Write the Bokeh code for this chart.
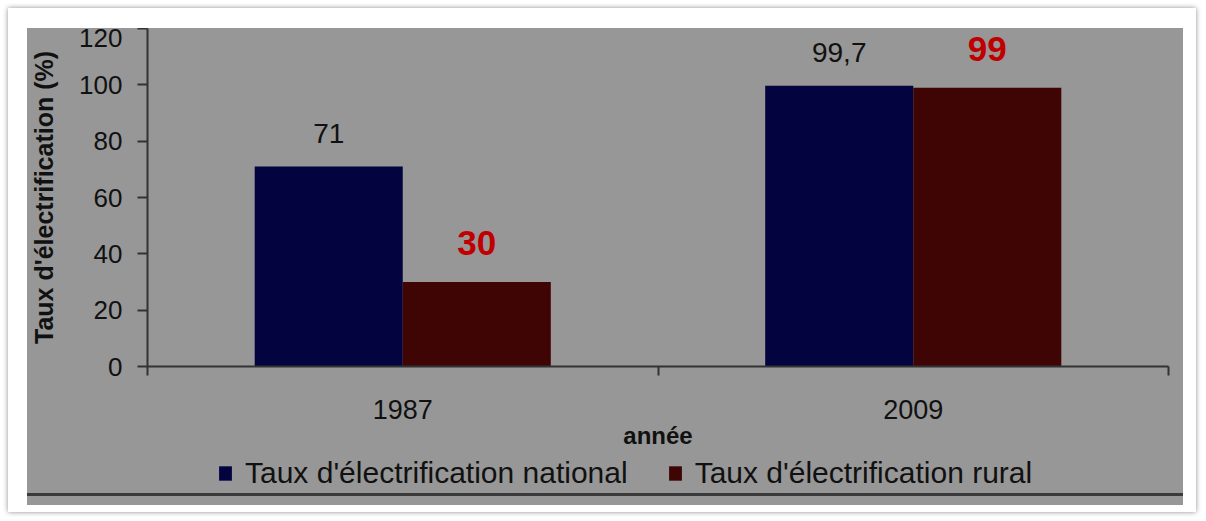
from bokeh.plotting import figure
from bokeh.models import (Range1d, LinearAxis, FixedTicker, Legend, LegendItem,
                          ColumnDataSource, Spacer)
from bokeh.layouts import column, row
from bokeh.transform import dodge
from bokeh.core.properties import value
from bokeh.embed import file_html
from bokeh.resources import INLINE

# ---- data ----
years = ["1987", "2009"]
national = [71, 99.7]
rural = [30, 99]
y_ticks = [0, 20, 40, 60, 80, 100, 120]
series_names = ["Taux d'électrification national", "Taux d'électrification rural"]
y_title = "Taux d'électrification (%)"
x_title = "année"

# ---- style ----
FONT = "Liberation Sans"
GREY = "#979797"
NAVY = "#03033f"
MAROON = "#3f0404"
RED_LABEL = "#c00000"
AX = "#333333"
TXT = "#111111"
W = 1156


def fmt(v):
    return f"{v:g}".replace(".", ",")


centers = [i + 0.5 for i in range(len(years))]
bounds = list(range(len(years) + 1))
src = ColumnDataSource(dict(
    x=centers, national=national, rural=rural,
    nat_lbl=[fmt(v) for v in national], rur_lbl=[fmt(v) for v in rural]))

p = figure(width=W, height=426, x_range=Range1d(0, len(years)),
           y_range=Range1d(0, y_ticks[-1]),
           output_backend="svg", toolbar_location=None, x_axis_location=None,
           min_border_left=120, min_border_right=15, min_border_top=0,
           min_border_bottom=88,
           background_fill_alpha=0, border_fill_color=GREY,
           outline_line_color=None)
p.grid.grid_line_color = None

bar_kw = dict(width=0.29, source=src, line_color=None)
p.vbar(x=dodge("x", -0.145), top="national", fill_color=NAVY, **bar_kw)
p.vbar(x=dodge("x", 0.145), top="rural", fill_color=MAROON, **bar_kw)

p.text(x=dodge("x", -0.145), y="national", text="nat_lbl", source=src,
       text_align="center", text_baseline="middle", y_offset=-33,
       text_font=value(FONT), text_font_size="28px", text_color=TXT)
p.text(x=dodge("x", 0.145), y="rural", text="rur_lbl", source=src,
       text_align="center", text_baseline="middle", y_offset=-39,
       text_font=value(FONT), text_font_size="35px", text_font_style="bold",
       text_color=RED_LABEL)

# y axis
ya = p.yaxis[0]
ya.ticker = FixedTicker(ticks=y_ticks)
ya.axis_line_color = AX
ya.axis_line_width = 2
ya.major_tick_line_color = AX
ya.major_tick_line_width = 2
ya.major_tick_out = 10
ya.major_tick_in = 0
ya.minor_tick_line_color = None
ya.major_label_standoff = 15
ya.major_label_text_font = FONT
ya.major_label_text_font_size = "26px"
ya.major_label_text_color = TXT
ya.axis_label = y_title
ya.axis_label_text_font = FONT
ya.axis_label_text_font_size = "25px"
ya.axis_label_text_font_style = "bold"
ya.axis_label_text_color = TXT
ya.axis_label_standoff = 18

# x axis: boundary ticks (no labels)
ax1 = LinearAxis(ticker=FixedTicker(ticks=bounds),
                 major_label_overrides={b: "" for b in bounds},
                 major_label_standoff=0,
                 major_tick_out=9, major_tick_in=0,
                 axis_line_color=AX, axis_line_width=2,
                 major_tick_line_color=AX, major_tick_line_width=2,
                 minor_tick_line_color=None)
p.add_layout(ax1, "below")

# x axis: category labels
ax2 = LinearAxis(ticker=FixedTicker(ticks=centers),
                 major_label_overrides={c: y for c, y in zip(centers, years)},
                 axis_line_color=None, major_tick_line_color=None,
                 minor_tick_line_color=None, major_tick_out=0, major_tick_in=0,
                 major_label_standoff=24,
                 major_label_text_font=FONT, major_label_text_font_size="27px",
                 major_label_text_color=TXT,
                 axis_label=x_title, axis_label_standoff=0,
                 axis_label_text_font=FONT, axis_label_text_font_size="24px",
                 axis_label_text_font_style="bold", axis_label_text_color=TXT)
p.add_layout(ax2, "below")

# ---- legend strip (same series, drawn out of view) ----
lg = figure(width=W, height=39, x_range=Range1d(0, len(years)),
            y_range=Range1d(1000, 1001), output_backend="svg",
            toolbar_location=None, x_axis_location=None, y_axis_location=None,
            min_border=0, background_fill_alpha=0, border_fill_color=GREY,
            outline_line_color=None)
lg.grid.grid_line_color = None
l1 = lg.vbar(x=dodge("x", -0.145), top="national", fill_color=NAVY, **bar_kw)
l2 = lg.vbar(x=dodge("x", 0.145), top="rural", fill_color=MAROON, **bar_kw)

legend = Legend(items=[LegendItem(label=series_names[0], renderers=[l1]),
                       LegendItem(label=series_names[1], renderers=[l2])],
                orientation="horizontal", location=(70, 3),
                glyph_width=16, glyph_height=18, label_standoff=12, spacing=39,
                padding=0, margin=0, border_line_color=None,
                background_fill_alpha=0,
                label_text_font=FONT, label_text_font_size="30px",
                label_text_color=TXT)
lg.add_layout(legend)

rule = Spacer(width=W, height=3, styles={"background-color": "#3a3a3a"})
strip = Spacer(width=W, height=9, styles={"background-color": GREY})
inner = column(p, lg, rule, strip, styles={"background-color": GREY})

frame_box = column(
    Spacer(width=1188, height=20),
    row(Spacer(width=19, height=477), inner, Spacer(width=13, height=477)),
    Spacer(width=1188, height=7),
    styles={"background-color": "white",
            "box-shadow": "0 0 5px rgba(0,0,0,0.45)"})

page = column(Spacer(width=1196, height=8),
              row(Spacer(width=8, height=504), frame_box))

open("out.html", "w").write(file_html(page, INLINE))
